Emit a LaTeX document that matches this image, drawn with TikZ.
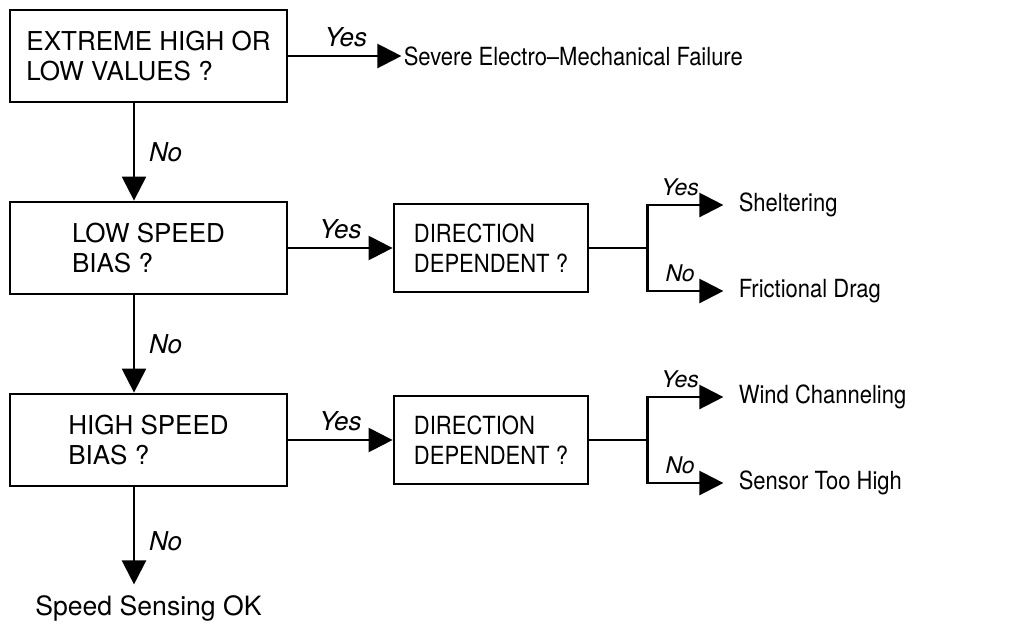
\documentclass[tikz,border=0pt]{standalone}
\usepackage{fontspec}
\setmainfont{TeX Gyre Heros}
\newfontfamily\narrowfont[FakeStretch=0.88,Ligatures=TeX]{TeX Gyre Heros}
\usetikzlibrary{positioning,arrows.meta}

\begin{document}
\begin{tikzpicture}[node distance=96pt, auto,
        box/.style={rectangle, draw, line width=1.4pt, minimum width=138.5pt, minimum height=46pt, align=left, font=\fontsize{13}{15}\selectfont},
        dirbox/.style={box, minimum width=97pt, minimum height=44pt, font=\narrowfont\fontsize{12.5}{15}\selectfont},
        result/.style={inner sep=0pt, anchor=west, font=\narrowfont\fontsize{12.5}{15}\selectfont},
        lbl/.style={font=\fontsize{13}{15}\selectfont\itshape, inner xsep=7pt, inner ysep=4pt},
        sublbl/.style={lbl, font=\fontsize{11.5}{15}\selectfont\itshape},
        arrow/.style={-{Triangle[length=12pt,width=12pt]}, line width=1.2pt},
        line/.style={line width=1.2pt}]

        \useasboundingbox (0,0) rectangle (507.5pt,-311pt);

        \node[box] (extreme) at (74.25pt,-28pt) {EXTREME HIGH OR\\LOW VALUES ?};
        \node[box, below of=extreme] (lowbias) {LOW SPEED\\BIAS ?};
        \node[box, below of=lowbias] (highbias) {HIGH SPEED\\BIAS ?};
        \node[dirbox, right of=lowbias, node distance=171.25pt] (lowdir) {DIRECTION\\DEPENDENT ?};
        \node[dirbox, right of=highbias, node distance=171.25pt] (highdir) {DIRECTION\\DEPENDENT ?};

        \node[result, right=57.5pt of extreme] (failure) {Severe Electro--Mechanical Failure};
        \node[result, below=54pt of highbias, font=\fontsize{13.3}{15}\selectfont] (ok) {Speed Sensing OK};

        \coordinate[right=29pt of lowdir] (lowsplit);
        \coordinate[right=29pt of highdir] (highsplit);
        \node[result, right=45.5pt of lowsplit, yshift=21.5pt] (shelter) {Sheltering};
        \node[result, right=45.5pt of lowsplit, yshift=-21.5pt] (drag) {Frictional Drag};
        \node[result, right=45.5pt of highsplit, yshift=21.5pt] (channel) {Wind Channeling};
        \node[result, right=45.5pt of highsplit, yshift=-21.5pt] (toohigh) {Sensor Too High};

        \draw[arrow, shorten >=1pt] (extreme) -- node[lbl] {Yes} (failure);
        \draw[arrow] ([xshift=-7.25pt]extreme.south) -- node[lbl] {No} ([xshift=-7.25pt]lowbias.north);
        \draw[arrow] ([xshift=-7.25pt]lowbias.south) -- node[lbl] {No} ([xshift=-7.25pt]highbias.north);
        \draw[arrow, shorten >=5.5pt] ([xshift=-7.25pt]highbias.south) -- node[lbl] {No} ([xshift=-7.25pt]ok.north);
        \draw[arrow] (lowbias) -- node[lbl] {Yes} (lowdir);
        \draw[arrow] (highbias) -- node[lbl] {Yes} (highdir);

        \draw[line] (lowdir) -- (lowsplit);
        \draw[arrow, shorten >=7.5pt] (lowsplit) |- node[sublbl, pos=0.68] {Yes} (shelter);
        \draw[arrow, shorten >=7.5pt] (lowsplit) |- node[sublbl, pos=0.68] {No} (drag);
        \draw[line] (highdir) -- (highsplit);
        \draw[arrow, shorten >=7.5pt] (highsplit) |- node[sublbl, pos=0.68] {Yes} (channel);
        \draw[arrow, shorten >=7.5pt] (highsplit) |- node[sublbl, pos=0.68] {No} (toohigh);
    \end{tikzpicture}
\end{document}
